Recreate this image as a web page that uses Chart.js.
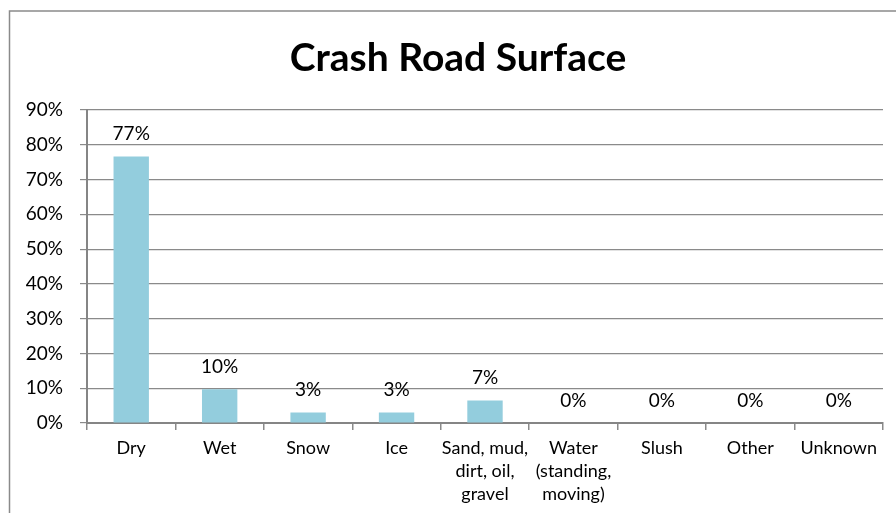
<!DOCTYPE html>
<html lang="en">
<head>
    <meta charset="UTF-8">
    <title>Crash Road Surface</title>
    <script src="https://cdn.jsdelivr.net/npm/chart.js@4"></script>
    <style>
      html, body { margin: 0; padding: 0; background: #fff; }
      #wrap { width: 896px; height: 513px; position: relative; }
    </style>
</head>
<body>
    <div id="wrap"><canvas id="myChart" width="896" height="513"></canvas></div>

    <script>
      const chartTitle = 'Crash Road Surface';
      const surfaces = ['Dry', 'Wet', 'Snow', 'Ice', ['Sand, mud,', 'dirt, oil,', 'gravel'],
        ['Water', '(standing,', 'moving)'], 'Slush', 'Other', 'Unknown'];
      const shares = [76.6, 9.7, 3.0, 3.0, 6.5, 0, 0, 0, 0];
      const shareLabels = ['77%', '10%', '3%', '3%', '7%', '0%', '0%', '0%', '0%'];
      const yTicks = [0, 10, 20, 30, 40, 50, 60, 70, 80, 90];

      const FONT = 'Lato, "Open Sans", sans-serif';

      // frame around the whole chart + the title (title sits a bit right of canvas centre)
      const framePlugin = {
        id: 'frame',
        beforeDraw(chart) {
          const c = chart.ctx;
          c.save();
          c.strokeStyle = '#8a8a8a';
          c.lineWidth = 1.5;
          c.strokeRect(9.5, 11, 1000, 600);
          c.font = 'bold 39px ' + FONT;
          c.fillStyle = '#000';
          c.textAlign = 'center';
          c.textBaseline = 'middle';
          c.fillText(chartTitle, 458, 58);
          c.restore();
        }
      };

      // value labels above each bar
      const valueLabels = {
        id: 'valueLabels',
        afterDatasetsDraw(chart) {
          const c = chart.ctx;
          const meta = chart.getDatasetMeta(0);
          c.save();
          c.font = '19px ' + FONT;
          c.fillStyle = '#000';
          c.textAlign = 'center';
          c.textBaseline = 'middle';
          meta.data.forEach((bar, i) => {
            c.fillText(shareLabels[i], bar.x, bar.y - 22.5);
          });
          c.restore();
        }
      };

      const ctx = document.getElementById('myChart').getContext('2d');
      new Chart(ctx, {
        type: 'bar',
        data: {
          labels: surfaces,
          datasets: [{
            data: shares,
            backgroundColor: '#93cddd',
            borderWidth: 0,
            barPercentage: 0.4,
            categoryPercentage: 1
          }]
        },
        options: {
          responsive: false,
          animation: false,
          layout: { padding: { left: 0, right: 13, top: 110, bottom: 0 } },
          plugins: {
            legend: { display: false },
            tooltip: { enabled: false },
            title: { display: false }
          },
          scales: {
            x: {
              afterFit: s => { s.height = 90; },
              grid: { drawOnChartArea: false, tickLength: 7, color: '#8a8a8a', lineWidth: 1.5 },
              border: { color: '#858585', width: 2 },
              ticks: {
                color: '#000',
                padding: 7,
                maxRotation: 0,
                autoSkip: false,
                font: { family: FONT, size: 18, lineHeight: 1.28 }
              }
            },
            y: {
              min: 0,
              max: 90,
              afterFit: s => { s.width = 87; },
              afterBuildTicks: s => { s.ticks = yTicks.map(v => ({ value: v })); },
              grid: { color: '#8a8a8a', lineWidth: 1.2, tickLength: 7 },
              border: { color: '#858585', width: 2 },
              ticks: {
                color: '#000',
                padding: 17,
                font: { family: FONT, size: 19 },
                callback: v => v + '%'
              }
            }
          }
        },
        plugins: [framePlugin, valueLabels]
      });
    </script>
</body>
</html>
